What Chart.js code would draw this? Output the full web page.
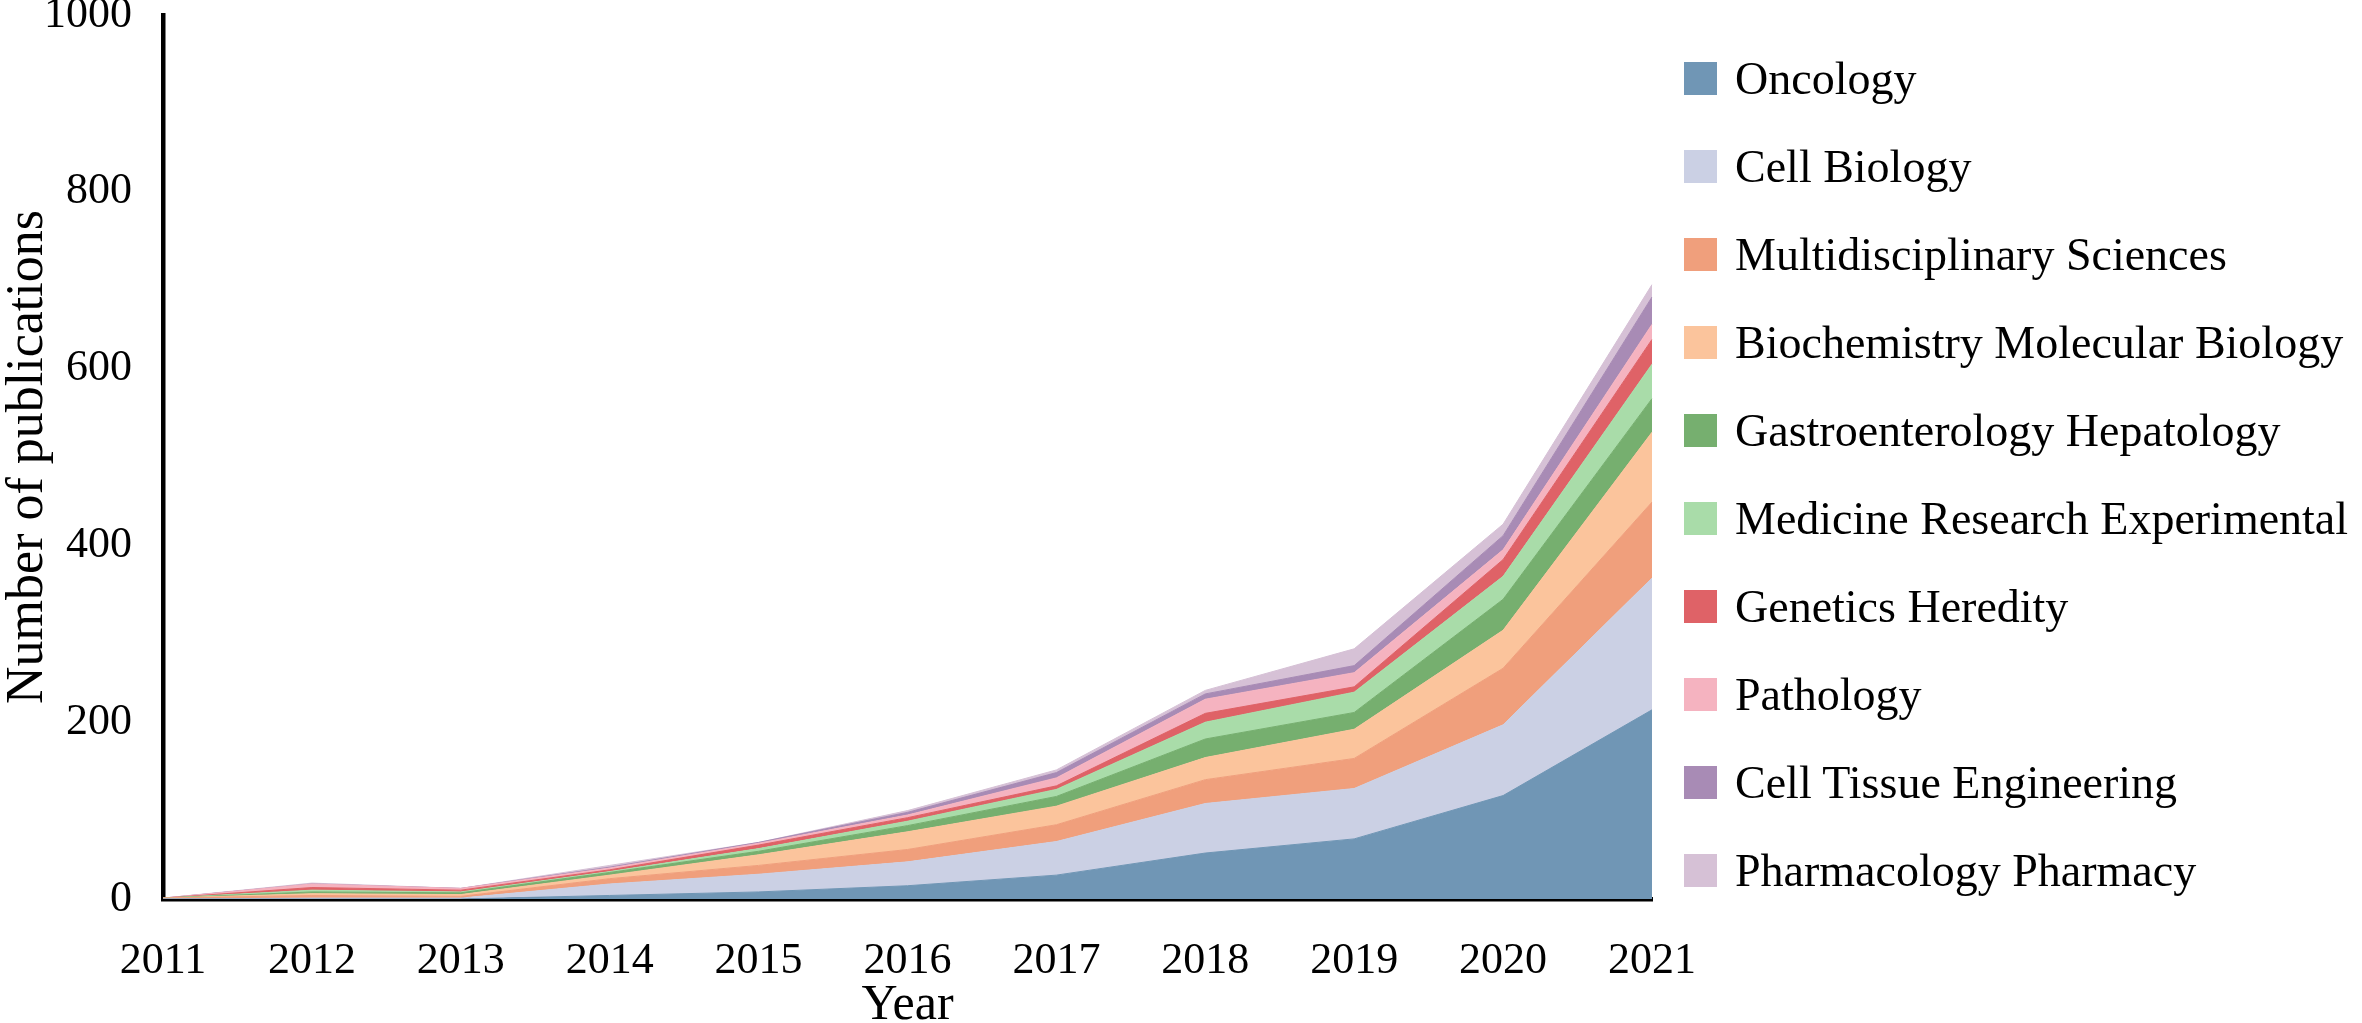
<!DOCTYPE html>
<html>
<head>
<meta charset="utf-8">
<script src="https://cdn.jsdelivr.net/npm/chart.js@4.4.1/dist/chart.umd.min.js"></script>
<style>
  html, body { margin: 0; padding: 0; background: #fff; }
  #wrap { position: relative; width: 2362px; height: 1023px; overflow: hidden; }
  #c { position: absolute; left: 0; top: 0; }
  #legend { position: absolute; left: 1684px; top: 34px; font-family: 'Liberation Serif', 'Times New Roman', serif; font-size: 46px; color: #000; }
  .item { height: 88.1px; display: flex; align-items: center; white-space: nowrap; }
  .box { width: 33px; height: 33px; margin-right: 18px; flex: none; }
</style>
</head>
<body>
<div id="wrap">
  <canvas id="c" width="2362" height="1023"></canvas>
  <div id="legend"></div>
</div>
<script>
const years = ['2011','2012','2013','2014','2015','2016','2017','2018','2019','2020','2021'];
const yTicks = [0, 200, 400, 600, 800, 1000];

const oncology      = [0, 0, 0, 4, 8, 15, 27, 52, 68, 117, 214];
const cellBiology   = [0, 1, 1, 13, 20, 27, 38, 56, 57, 80, 149];
const multidisciplinary = [1, 3, 2, 6, 10, 14, 19, 27, 34, 64, 86];
const biochemistry  = [0, 2, 2, 4, 12, 20, 21, 25, 33, 43, 79];
const gastro        = [0, 2, 2, 3, 4, 7, 11, 21, 19, 35, 38];
const medicine      = [0, 2, 1, 1, 3, 5, 8, 19, 23, 26, 39];
const genetics      = [0, 3, 2, 2, 4, 4, 4, 10, 6, 19, 28];
const pathology     = [0, 4, 2, 2, 2, 3, 9, 16, 16, 11, 17];
const cellTissue    = [0, 0, 0, 1, 1, 3, 6, 6, 8, 16, 31];
const pharmacology  = [0, 1, 0, 2, 0, 2, 3, 4, 19, 13, 14];

const seriesNames = ['Oncology', 'Cell Biology', 'Multidisciplinary Sciences', 'Biochemistry Molecular Biology',
  'Gastroenterology Hepatology', 'Medicine Research Experimental', 'Genetics Heredity', 'Pathology',
  'Cell Tissue Engineering', 'Pharmacology Pharmacy'];
const seriesValues = [oncology, cellBiology, multidisciplinary, biochemistry, gastro, medicine, genetics, pathology, cellTissue, pharmacology];
const seriesColors = ['#7096B5', '#CBD0E4', '#F09F7C', '#FBC49C', '#76AF6F', '#A9DCA9', '#DF6267', '#F5B3C0', '#A88BB5', '#D6C1D6'];

const FONT = "'Liberation Serif', 'Times New Roman', serif";
Chart.defaults.font.family = FONT;
Chart.defaults.color = '#000';

const datasets = seriesNames.map((name, i) => ({
  label: name,
  data: seriesValues[i],
  backgroundColor: seriesColors[i],
  borderColor: seriesColors[i],
  borderWidth: 1,
  pointRadius: 0,
  tension: 0,
  fill: i === 0 ? 'origin' : '-1'
}));

const chart = new Chart(document.getElementById('c'), {
  type: 'line',
  data: { labels: years, datasets },
  options: {
    responsive: false,
    animation: false,
    devicePixelRatio: 1,
    layout: { padding: { top: 15, right: 710, bottom: 0, left: 0 } },
    plugins: { legend: { display: false }, tooltip: { enabled: false } },
    scales: {
      x: {
        type: 'category',
        offset: false,
        grid: { display: false, drawTicks: false },
        border: { display: true, color: '#000', width: 4.5 },
        ticks: { font: { size: 44 }, color: '#000', padding: 36, maxRotation: 0, autoSkip: false },
        title: { display: true, text: 'Year', font: { size: 50, lineHeight: 0.7 }, padding: 0, color: '#000' },
        afterFit: (scale) => { scale.height = 124; }
      },
      y: {
        stacked: true,
        min: 0, max: 1000,
        grid: { display: false, drawTicks: false },
        border: { display: true, color: '#000', width: 4.5 },
        afterBuildTicks: (axis) => { axis.ticks = yTicks.map(v => ({ value: v })); },
        ticks: { font: { size: 44 }, color: '#000', padding: 31, callback: (v) => String(v) },
        title: { display: true, text: 'Number of publications', font: { size: 52, lineHeight: 0.85 }, padding: { top: 6, bottom: 0 }, color: '#000' },
        afterFit: (scale) => { scale.width = 163; scale.paddingTop = 0; scale.paddingBottom = 0; }
      }
    }
  }
});

const legendEl = document.getElementById('legend');
chart.data.datasets.forEach(ds => {
  const row = document.createElement('div');
  row.className = 'item';
  const box = document.createElement('span');
  box.className = 'box';
  box.style.background = ds.backgroundColor;
  const txt = document.createElement('span');
  txt.textContent = ds.label;
  row.appendChild(box);
  row.appendChild(txt);
  legendEl.appendChild(row);
});
</script>
</body>
</html>
